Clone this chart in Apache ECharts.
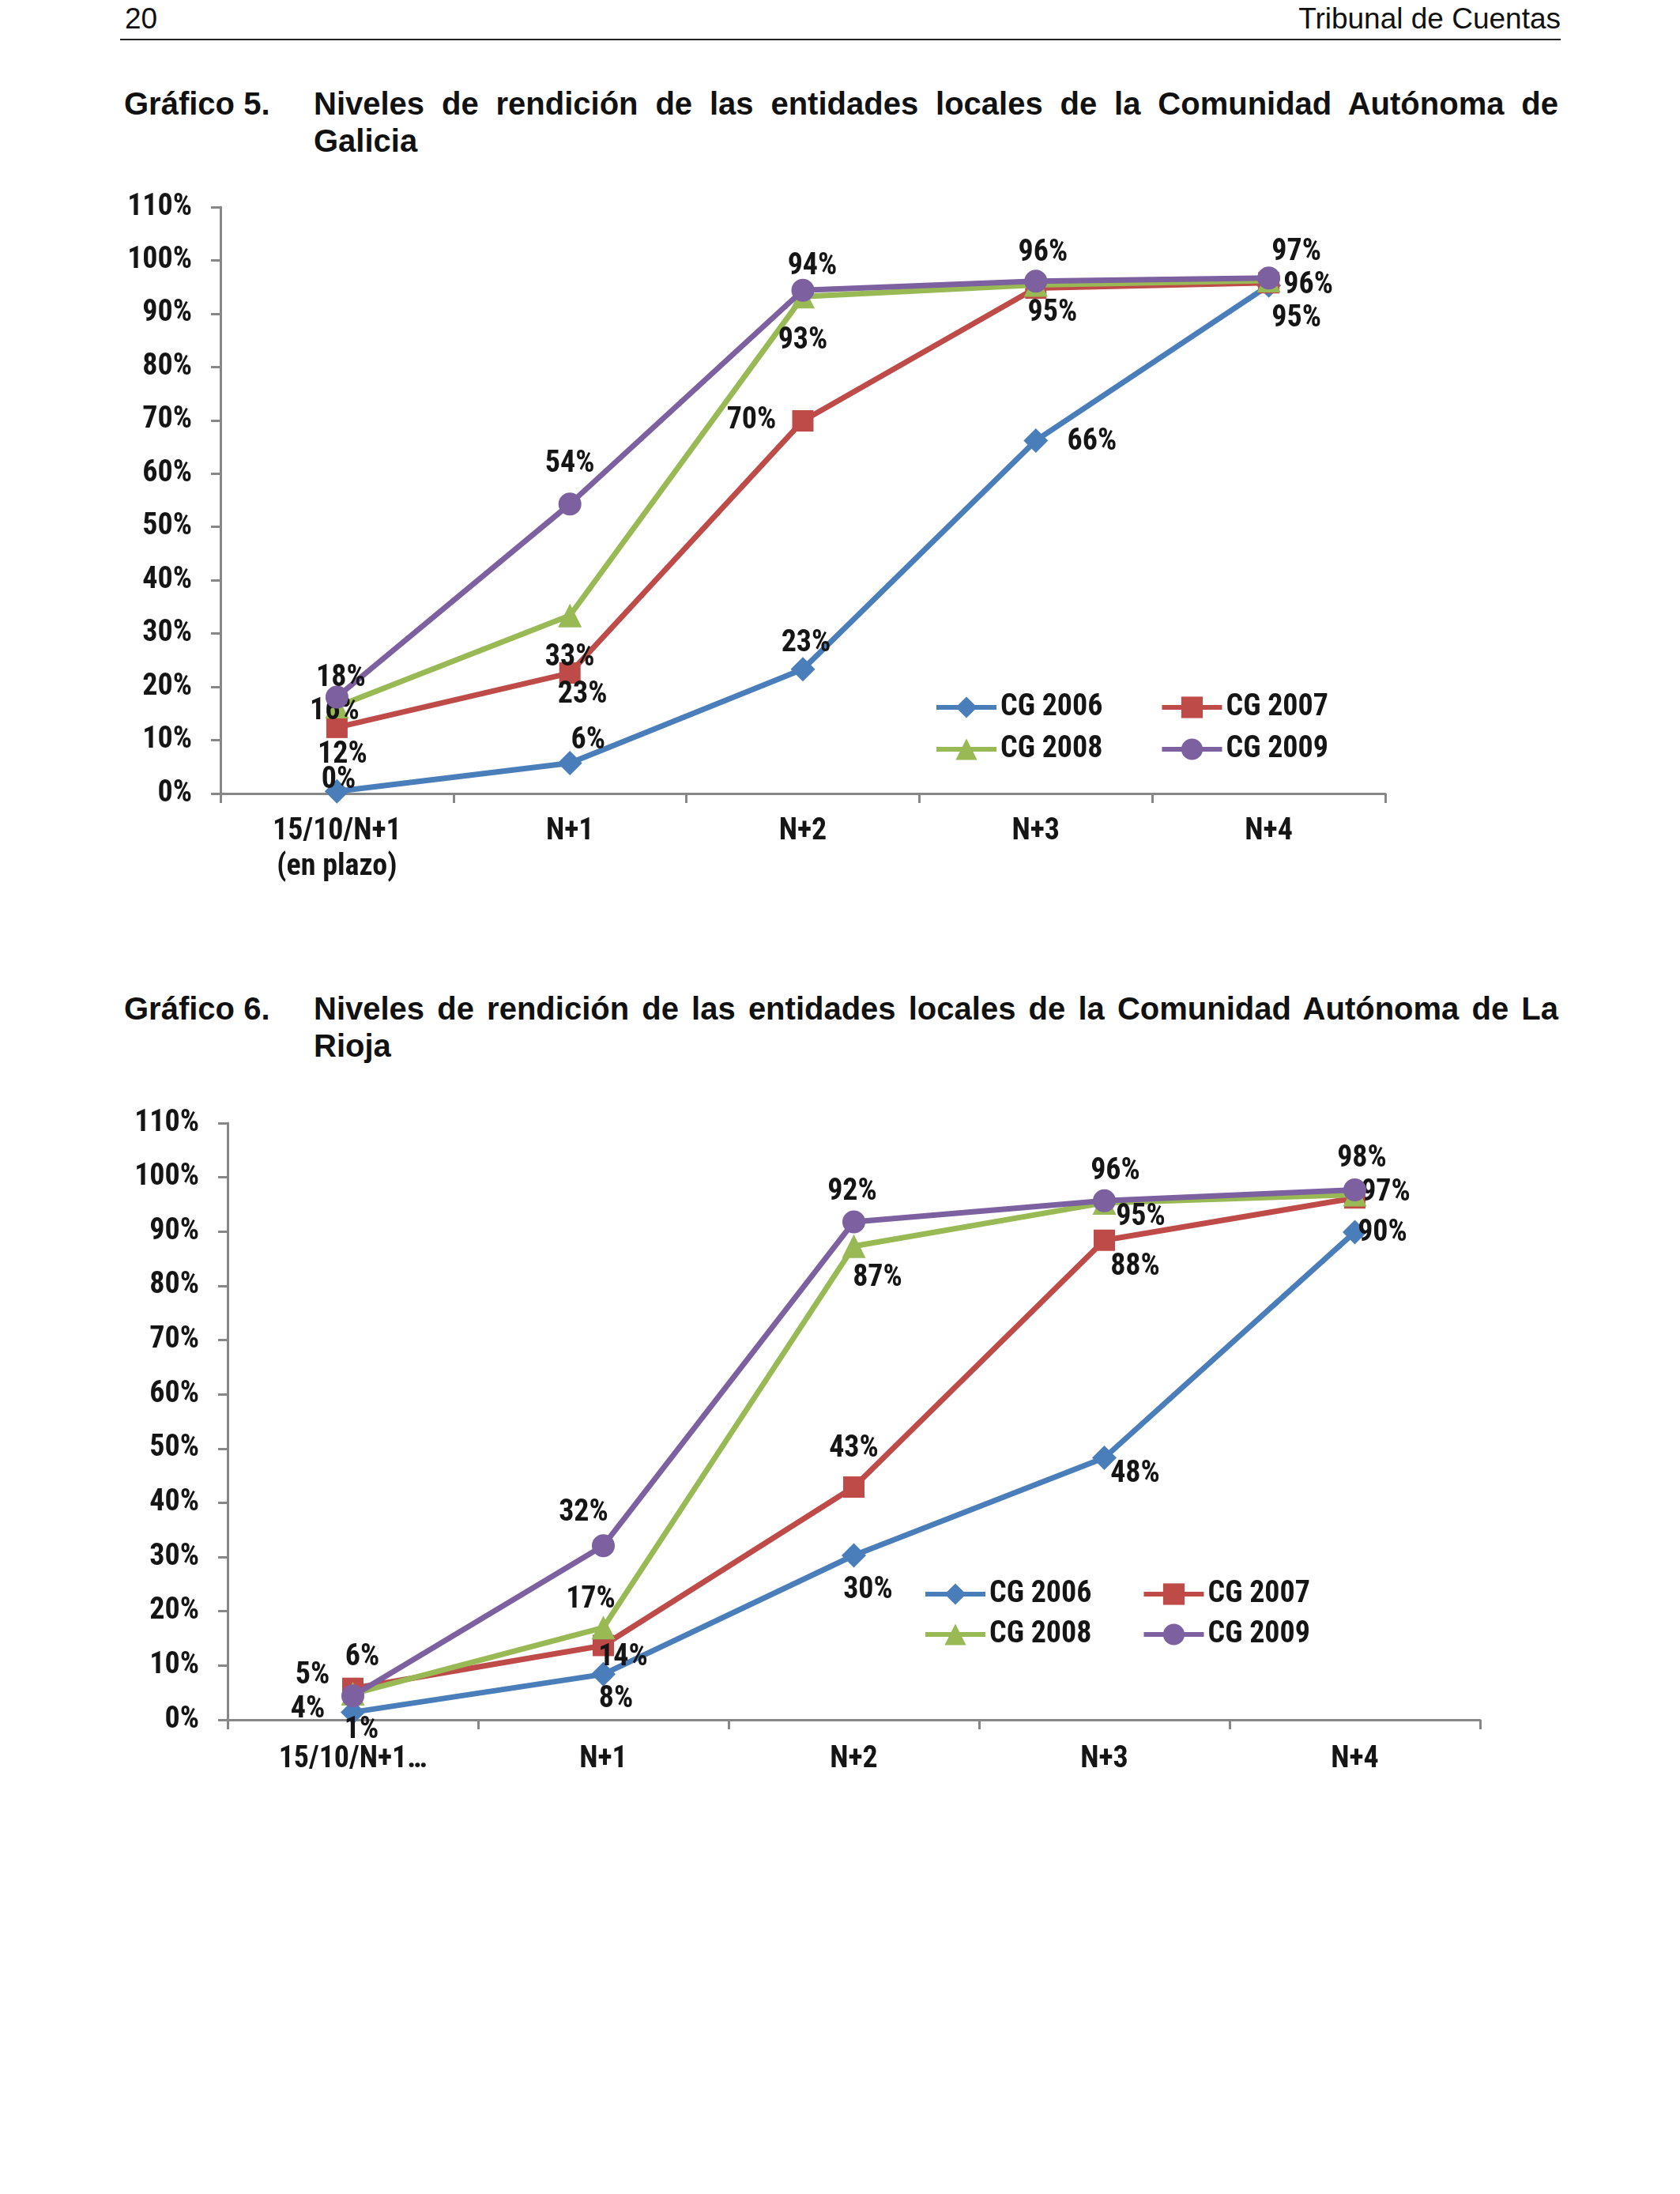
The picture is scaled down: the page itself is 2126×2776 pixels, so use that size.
<!DOCTYPE html>
<html><head><meta charset="utf-8">
<script src="https://cdn.jsdelivr.net/npm/echarts@6/dist/echarts.min.js"></script>
<style>
html,body{margin:0;padding:0;background:#fff;}
body{width:2126px;height:2776px;position:relative;overflow:hidden;font-family:'Liberation Sans',Arial,sans-serif;color:#111;}
#chart{position:absolute;left:0;top:0;width:2126px;height:2776px;}
.hdr{position:absolute;top:4px;font-size:37px;line-height:40px;white-space:nowrap;}
.rule{position:absolute;left:152px;top:49px;width:1823px;height:2px;background:#222;}
.tlabel{position:absolute;left:157px;font-weight:bold;font-size:40px;line-height:47px;white-space:nowrap;}
.ttext{position:absolute;left:397px;width:1575px;font-weight:bold;font-size:40px;line-height:47px;}
.j{text-align:justify;text-align-last:justify;}
</style></head>
<body>
<div class="hdr" style="left:158px">20</div>
<div class="hdr" style="right:151px">Tribunal de Cuentas</div>
<div class="rule"></div>

<div class="tlabel" style="top:108px">Gráfico 5.</div>
<div class="ttext" style="top:108px"><div class="j">Niveles de rendición de las entidades locales de la Comunidad Autónoma de</div><div>Galicia</div></div>

<div class="tlabel" style="top:1253px">Gráfico 6.</div>
<div class="ttext" style="top:1253px"><div class="j">Niveles de rendición de las entidades locales de la Comunidad Autónoma de La</div><div>Rioja</div></div>

<div id="chart"></div>
<script>
// ---- data ----
const categoriesGalicia = ['15/10/N+1\n(en plazo)', 'N+1', 'N+2', 'N+3', 'N+4'];
const categoriesRioja = ['15/10/N+1…', 'N+1', 'N+2', 'N+3', 'N+4'];
const seriesNames = ['CG 2006', 'CG 2007', 'CG 2008', 'CG 2009'];
const yTickValues = [0, 10, 20, 30, 40, 50, 60, 70, 80, 90, 100, 110];

const galicia2006 = [0.4, 5.7, 23.3, 66.2, 95.3];
const galicia2007 = [12.4, 22.6, 69.9, 94.8, 95.8];
const galicia2008 = [16.3, 33.4, 93.2, 95.4, 96.2];
const galicia2009 = [18.1, 54.3, 94.4, 96.1, 96.7];

const rioja2006 = [1.4, 8.4, 30.3, 48.3, 89.9];
const rioja2007 = [5.8, 13.7, 42.9, 88.4, 96.2];
const rioja2008 = [4.8, 17.0, 87.3, 95.3, 96.8];
const rioja2009 = [4.4, 32.1, 91.8, 95.7, 97.7];

// ---- styling (label placements per point: [dx, dy], null = hidden) ----
const FONT = "'Roboto Condensed','Open Sans','DejaVu Sans Condensed',sans-serif";
const colors = ['#4A7EBB', '#BE4B48', '#98B954', '#7D60A0'];
const symbols = ['diamond', 'rect', 'triangle', 'circle'];
const symbolSizes = [31, 27, 30, 29];

const offGalicia = [
  [[2, -14], [23, -28], [4, -32], [71, 2], [35, 42]],
  [[7, 35], [16, 28], [-65, 0], [21, 32], [50, 4]],
  [[-3, 6], [0, 54], [0, 56], null, null],
  [[5, -23], [0, -50], [12, -30], [9, -35], [35, -32]]
];
const offRioja = [
  [[11, 23], [16, 32], [18, 44], [39, 21], [35, 2]],
  [[12, -39], [25, 16], [0, -48], [39, 34], null],
  [[-51, -23], [-16, -35], [30, 41], [46, 19], [39, -2]],
  [[-57, 18], [-25, -41], [-2, -37], [14, -37], [9, -39]]
];

const textBase = {fontFamily: FONT, fontWeight: 'bold', fontSize: 38, color: '#151515'};
const axisColor = '#878787';

function mkSeries(values, idx, gridIdx, offs) {
  const o = offs[idx];
  return {
    name: seriesNames[idx], type: 'line',
    xAxisIndex: gridIdx, yAxisIndex: gridIdx,
    symbol: symbols[idx], symbolSize: symbolSizes[idx],
    lineStyle: {color: colors[idx], width: 7},
    itemStyle: {color: colors[idx]},
    z: 2 + idx,
    animation: false,
    label: Object.assign({show: true, position: 'inside', formatter: p => Math.round(p.value) + '%'}, textBase),
    labelLayout: function (params) {
      const d = o[params.dataIndex];
      return d ? {dx: d[0], dy: d[1], hideOverlap: false} : {};
    },
    data: values.map((v, i) => o[i] ? v : {value: v, label: {show: false}})
  };
}

function mkXAxis(cats, gridIdx, margin) {
  return {
    type: 'category', gridIndex: gridIdx, data: cats, boundaryGap: true,
    axisLine: {show: true, lineStyle: {color: axisColor, width: 3}},
    axisTick: {show: true, length: 12, interval: 0, lineStyle: {color: axisColor, width: 3}},
    axisLabel: Object.assign({interval: 0, margin: margin, lineHeight: 45}, textBase),
    splitLine: {show: false}
  };
}
function mkYAxis(gridIdx) {
  return {
    type: 'value', gridIndex: gridIdx, min: yTickValues[0], max: yTickValues[yTickValues.length - 1], interval: 10,
    axisLine: {show: true, lineStyle: {color: axisColor, width: 3}},
    axisTick: {show: true, length: 12, lineStyle: {color: axisColor, width: 3}},
    axisLabel: Object.assign({margin: 36, formatter: v => v + '%'}, textBase),
    splitLine: {show: false}
  };
}
function mkLegend(names, left, top, gap) {
  return {
    data: names, left: left, top: top, orient: 'horizontal',
    itemWidth: 76, itemHeight: 34, itemGap: gap, selectedMode: false,
    lineStyle: {width: 6},
    textStyle: Object.assign({width: 130}, textBase)
  };
}

const chart = echarts.init(document.getElementById('chart'), null, {renderer: 'canvas'});
chart.setOption({
  animation: false,
  backgroundColor: 'transparent',
  grid: [
    {left: 279, top: 262, width: 1474, height: 742},
    {left: 288, top: 1421, width: 1585, height: 755}
  ],
  xAxis: [mkXAxis(categoriesGalicia, 0, 26), mkXAxis(categoriesRioja, 1, 28)],
  yAxis: [mkYAxis(0), mkYAxis(1)],
  legend: [
    mkLegend(['CG 2006', 'CG 2007'], 1177, 871, 72),
    mkLegend(['CG 2008', 'CG 2009'], 1177, 924, 72),
    mkLegend(['CG 2006', 'CG 2007'], 1163, 1993, 63),
    mkLegend(['CG 2008', 'CG 2009'], 1163, 2044, 63)
  ],
  series: [
    mkSeries(galicia2006, 0, 0, offGalicia),
    mkSeries(galicia2007, 1, 0, offGalicia),
    mkSeries(galicia2008, 2, 0, offGalicia),
    mkSeries(galicia2009, 3, 0, offGalicia),
    mkSeries(rioja2006, 0, 1, offRioja),
    mkSeries(rioja2007, 1, 1, offRioja),
    mkSeries(rioja2008, 2, 1, offRioja),
    mkSeries(rioja2009, 3, 1, offRioja)
  ]
});
</script>
</body></html>
